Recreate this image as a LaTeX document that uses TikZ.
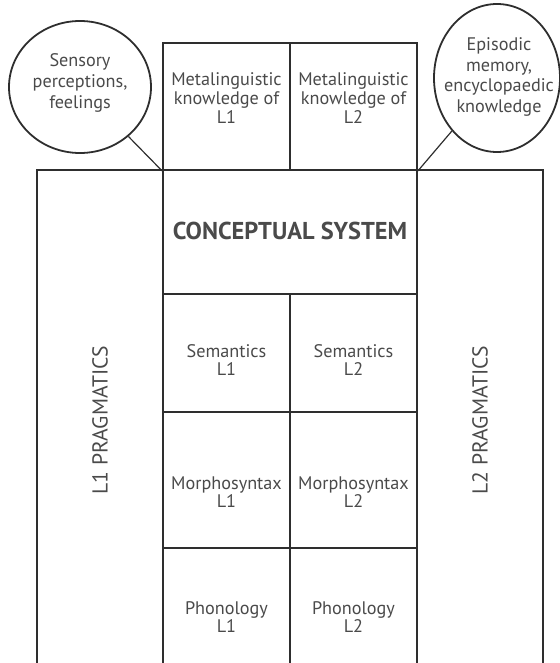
\documentclass[tikz,border=0pt]{standalone}
\usepackage{fontspec}
\setmainfont{PT Sans}
\usetikzlibrary{shapes.geometric}
\definecolor{txt}{HTML}{4A4A4A}
\definecolor{ln}{HTML}{2E2E2E}

\begin{document}
\begin{tikzpicture}[x=0.5pt,y=-0.5pt,line width=0.9pt,
  every node/.style={font=\fontsize{9.1}{9.3}\selectfont,text=txt,align=center,inner sep=0pt},
  cell/.style={draw=ln,minimum width=63.5pt},
  bubble/.style={draw=ln,ellipse},
  bubtxt/.style={font=\fontsize{9.1}{10.4}\selectfont},
  big/.style={font=\fontsize{10.8}{12}\selectfont}]
\useasboundingbox (0,0) rectangle (560,663); \clip (0,0) rectangle (560,663);
% pragmatics
\node[cell,minimum width=63pt,minimum height=255pt] (prag1) at (100,425) {};
\node[cell,minimum width=63pt,minimum height=255pt] (prag2) at (480,425) {};
\node[big,rotate=90] (prag1txt) at (100,420) {L1 PRAGMATICS};
\node[big,rotate=90] (prag2txt) at (480,420) {L2 PRAGMATICS};
% metalinguistic knowledge
\node[cell,minimum height=63.5pt] (meta1) at (226.5,106.5) {}; \node (meta1txt) at (226.5,98) {Metalinguistic\\knowledge of\\L1};
\node[cell,minimum height=63.5pt] (meta2) at (353.5,106.5) {}; \node (meta2txt) at (353.5,98) {Metalinguistic\\knowledge of\\L2};
% conceptual system
\node[cell,minimum width=127pt,minimum height=62pt] (concept) at (290,232) {};
\node[font=\bfseries\fontsize{12.2}{13}\selectfont] (concepttxt) at (290,231) {CONCEPTUAL SYSTEM};
% language levels
\node[cell,minimum height=59pt] (sem1) at (226.5,353) {}; \node (sem1txt) at (226.5,360) {Semantics\\L1};
\node[cell,minimum height=59pt] (sem2) at (353.5,353) {}; \node (sem2txt) at (353.5,360) {Semantics\\L2};
\node[cell,minimum height=68pt] (syn1) at (226.5,480) {}; \node (syn1txt) at (226.5,492) {Morphosyntax\\L1};
\node[cell,minimum height=68pt] (syn2) at (353.5,480) {}; \node (syn2txt) at (353.5,492) {Morphosyntax\\L2};
\node[cell,minimum height=66pt] (pho1) at (226.5,614) {}; \node (pho1txt) at (226.5,617) {Phonology\\L1};
\node[cell,minimum height=66pt] (pho2) at (353.5,614) {}; \node (pho2txt) at (353.5,617) {Phonology\\L2};
% bubbles
\node[bubble,minimum width=71pt,minimum height=66pt] (sens) at (80,87) {};
\node[bubtxt] (senstxt) at (80,83) {Sensory\\perceptions,\\feelings};
\node[bubble,minimum width=63pt,minimum height=74pt] (epis) at (497,78) {};
\node[bubtxt] (epistxt) at (499,77) {Episodic\\memory,\\encyclopaedic\\knowledge};
\draw[ln,line width=0.6pt] (sens) -- (meta1.south west); \draw[ln,line width=0.6pt] (epis) -- (meta2.south east);
\end{tikzpicture}
\end{document}
